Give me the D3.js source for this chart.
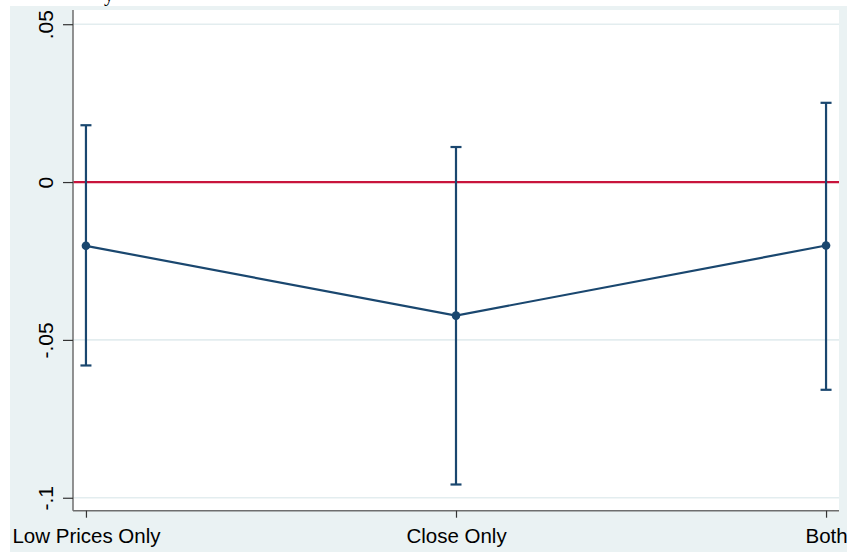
<!DOCTYPE html>
<html>
<head>
<meta charset="utf-8">
<script src="https://cdn.jsdelivr.net/npm/d3@7"></script>
<style>
  html, body { margin: 0; padding: 0; background: #ffffff; }
  svg { display: block; }
  text { font-family: "Liberation Sans", Arial, sans-serif; }
</style>
</head>
<body>
<svg id="chart" width="847" height="552"></svg>
<script>
// ---- data ----
const categories = ["Low Prices Only", "Close Only", "Both"];
const estimates  = [-0.0202, -0.0423, -0.0201];
const ciUpper    = [0.0180, 0.0111, 0.0251];
const ciLower    = [-0.0581, -0.0958, -0.0658];
const yTickValues = [-0.1, -0.05, 0, 0.05];
const yTickLabels = ["-.1", "-.05", "0", ".05"];
const refLineValue = 0;

// ---- layout ----
const W = 847, H = 552;
const plot = { left: 73, right: 839, top: 10, bottom: 510.7 };
const bgColor = "#EAF2F3";
const gridColor = "#E3EDEF";
const navy = "#1A476F";
const red = "#C8143C";
const axisColor = "#6E6E6E";

const svg = d3.select("#chart");

// outer background (Stata-like graph region)
svg.append("rect").attr("x", 10).attr("y", 6).attr("width", W - 10).attr("height", H - 6).attr("fill", bgColor);
// plot region
svg.append("rect").attr("x", plot.left).attr("y", plot.top)
  .attr("width", plot.right - plot.left).attr("height", plot.bottom - plot.top).attr("fill", "#ffffff");

// cropped title descender (the reference shows only the bottom of this glyph)
svg.append("text").attr("x", 104).attr("y", 0.5)
  .style("font-family", "'Liberation Serif', 'DejaVu Serif', serif")
  .style("font-size", "20px").attr("fill", "#000").text("y");

const x = d3.scalePoint().domain(categories).range([plot.left, plot.right]).padding(0.035);
const y = d3.scaleLinear().domain([-0.1041, 0.0545]).range([plot.bottom, plot.top]);

// gridlines
svg.append("g").selectAll("line").data(yTickValues).join("line")
  .attr("x1", plot.left).attr("x2", plot.right)
  .attr("y1", d => y(d)).attr("y2", d => y(d))
  .attr("stroke", gridColor).attr("stroke-width", 1.6);

// reference line at 0
svg.append("line")
  .attr("x1", plot.left).attr("x2", plot.right)
  .attr("y1", y(refLineValue)).attr("y2", y(refLineValue))
  .attr("stroke", red).attr("stroke-width", 2.2);

// y axis
const yAxis = d3.axisLeft(y).tickValues(yTickValues)
  .tickFormat((d, i) => yTickLabels[i]).tickSize(10).tickPadding(0);
const gy = svg.append("g").attr("transform", `translate(${plot.left},0)`).call(yAxis);
gy.select(".domain").attr("stroke", axisColor).attr("stroke-width", 1.5)
  .attr("d", `M0,${plot.top}V${plot.bottom}`);
gy.selectAll(".tick line").attr("stroke", "#333").attr("stroke-width", 1.2);
gy.selectAll(".tick text")
  .attr("x", null).attr("dy", null)
  .attr("transform", "translate(-20,0) rotate(-90)")
  .attr("text-anchor", "middle")
  .attr("fill", "#000")
  .style("font-size", "21px")
  .style("font-family", "'Liberation Sans', Arial, sans-serif");

// x axis
const xAxis = d3.axisBottom(x).tickSize(7).tickPadding(11);
const gx = svg.append("g").attr("transform", `translate(0,${plot.bottom})`).call(xAxis);
gx.select(".domain").attr("stroke", axisColor).attr("stroke-width", 1.5)
  .attr("d", `M${plot.left},0H${plot.right}`);
gx.selectAll(".tick line").attr("stroke", "#333").attr("stroke-width", 1.2);
gx.selectAll(".tick text")
  .attr("fill", "#000").attr("dy", "0.71em")
  .style("font-size", "20.5px")
  .style("font-family", "'Liberation Sans', Arial, sans-serif");

// data
const rows = categories.map((c, i) => ({ c, est: estimates[i], lo: ciLower[i], hi: ciUpper[i] }));

// connecting line
svg.append("path").datum(rows)
  .attr("d", d3.line().x(d => x(d.c)).y(d => y(d.est)))
  .attr("fill", "none").attr("stroke", navy).attr("stroke-width", 2.2);

// error bars
const eb = svg.append("g").attr("stroke", navy).attr("stroke-width", 2.2);
eb.selectAll("line.v").data(rows).join("line").attr("class", "v")
  .attr("x1", d => x(d.c)).attr("x2", d => x(d.c))
  .attr("y1", d => y(d.lo)).attr("y2", d => y(d.hi));
eb.selectAll("line.ct").data(rows).join("line").attr("class", "ct")
  .attr("x1", d => x(d.c) - 5.5).attr("x2", d => x(d.c) + 5.5)
  .attr("y1", d => y(d.hi)).attr("y2", d => y(d.hi));
eb.selectAll("line.cb").data(rows).join("line").attr("class", "cb")
  .attr("x1", d => x(d.c) - 5.5).attr("x2", d => x(d.c) + 5.5)
  .attr("y1", d => y(d.lo)).attr("y2", d => y(d.lo));

// markers
svg.append("g").selectAll("circle").data(rows).join("circle")
  .attr("cx", d => x(d.c)).attr("cy", d => y(d.est)).attr("r", 4.3)
  .attr("fill", navy);
</script>
</body>
</html>
